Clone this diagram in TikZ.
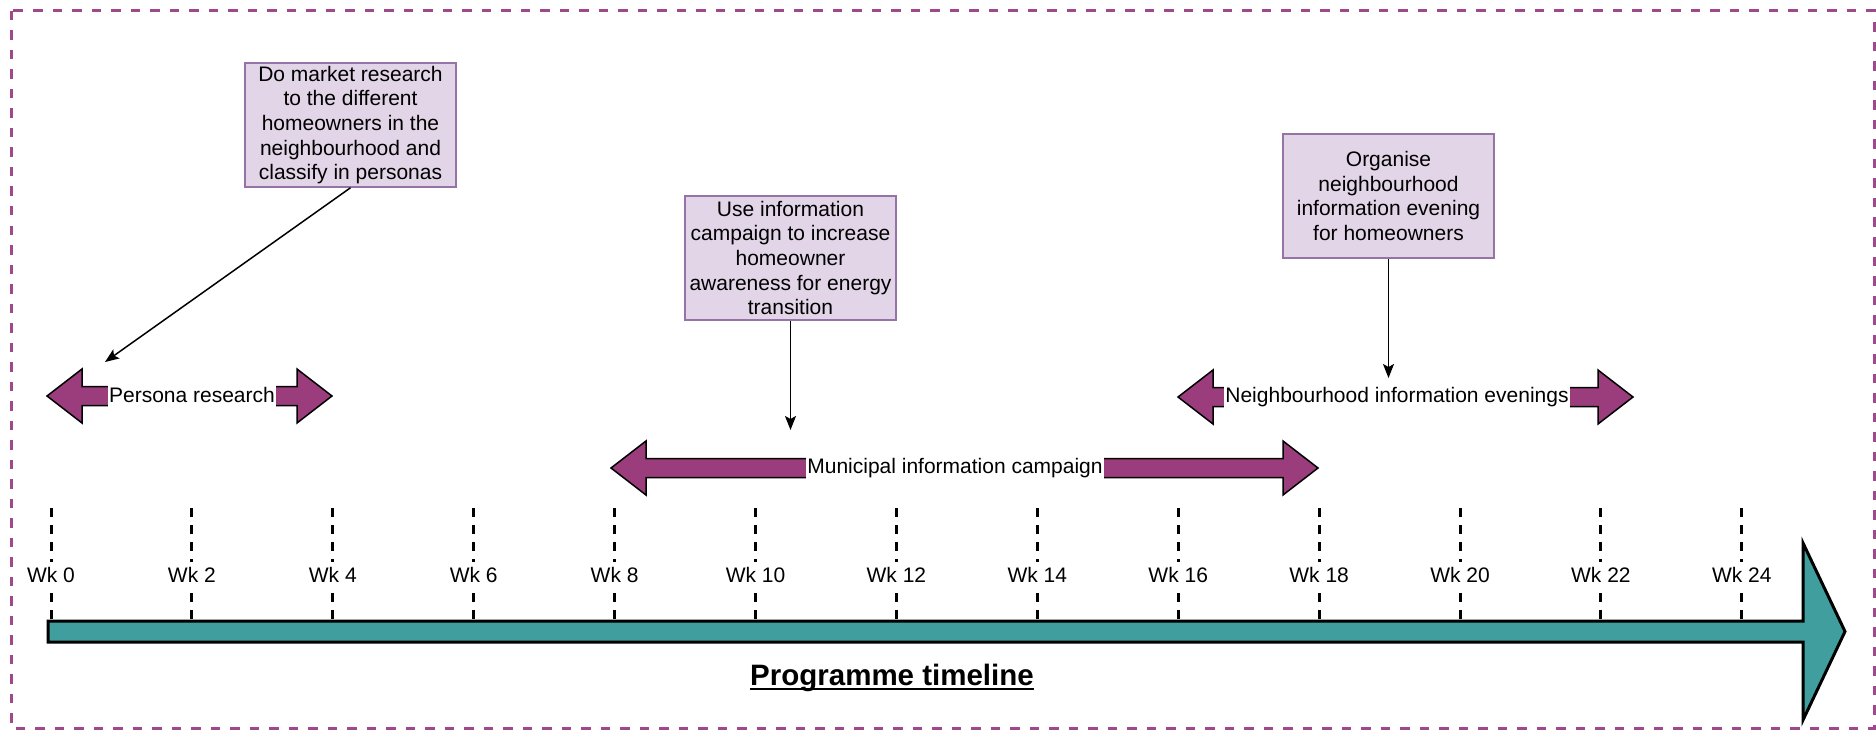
\documentclass[tikz,border=0pt]{standalone}
\usepackage{fontspec}
\setmainfont{Liberation Sans}
\usetikzlibrary{arrows.meta}
\definecolor{boxfill}{HTML}{E1D5E7}
\definecolor{boxline}{HTML}{9673A6}
\definecolor{arrowpurple}{RGB}{155,61,125}
\definecolor{tealbar}{RGB}{64,158,158}
\definecolor{framepurple}{RGB}{160,72,140}
\newcommand\spanarr[3]{%
  \filldraw[spanshape] (#1,#3) -- (#1+35,#3-27) -- (#1+35,#3-9.5) -- (#2-35,#3-9.5)
    -- (#2-35,#3-27) -- (#2,#3) -- (#2-35,#3+27) -- (#2-35,#3+9.5)
    -- (#1+35,#3+9.5) -- (#1+35,#3+27) -- cycle;}
\tikzset{
  box/.style={draw=boxline, fill=boxfill, line width=1.5pt, minimum width=211pt,
    minimum height=124pt, align=center, inner sep=2pt,
    font=\fontsize{21}{24.7}\selectfont},
  conn/.style={line width=1.5pt, -{Stealth[length=14pt,width=11pt,inset=3pt]}},
  spanlbl/.style={fill=white, inner xsep=1pt, inner ysep=2pt, text height=16pt,
    text depth=5pt, font=\fontsize{21}{24.7}\selectfont},
  wklbl/.style={fill=white, inner xsep=1pt, inner ysep=4pt, text height=16pt,
    text depth=5pt, anchor=base, font=\fontsize{21}{24.7}\selectfont},
  tickline/.style={line width=3pt, dash pattern=on 9pt off 8pt},
  spanshape/.style={fill=arrowpurple, draw=black, line width=1.5pt, line join=miter},
  framebox/.style={draw=framepurple, line width=3pt, dash pattern=on 9.5pt off 10pt},
}
\begin{document}
\begin{tikzpicture}[x=1pt,y=-1pt]
\useasboundingbox (0,0) rectangle (1876,730);
% frame
\draw[framebox] (11,11) rectangle (1874,728);

% ticks
\foreach \k in {0,...,12}{
  \pgfmathsetmacro\xx{51+140.9*\k}
  \pgfmathtruncatemacro\w{2*\k}
  \coordinate (tt\k) at (\xx,508);
  \coordinate (tb\k) at (\xx,621);
  \draw[tickline] (tt\k) -- (tb\k);
  \node[wklbl] (wk\k) at (\xx,582) {Wk \w};
}

% timeline bar
\filldraw[fill=tealbar, draw=black, line width=3pt, line join=miter]
  (48,621) -- (1803,621) -- (1803,543) -- (1845,631.5) -- (1803,720)
  -- (1803,642) -- (48,642) -- cycle;

% span arrows
\spanarr{47}{332}{396}
\node[spanlbl] (persona) at (192,397) {Persona research};
\spanarr{611}{1318}{468}
\node[spanlbl] (municipal) at (955,468) {Municipal information campaign};
\spanarr{1178}{1633}{397}
\node[spanlbl] (evenings) at (1397,397) {Neighbourhood information evenings};

% boxes
\node[box] (b1) at (350.5,125) {Do market research\\to the different\\homeowners in the\\neighbourhood and\\classify in personas};
\node[box] (b2) at (790.5,258) {Use information\\campaign to increase\\homeowner\\awareness for energy\\transition};
\node[box] (b3) at (1388.5,196) {Organise\\neighbourhood\\information evening\\for homeowners};

% connectors
\coordinate (p1) at (105,362);
\coordinate (p2) at (790.5,430);
\coordinate (p3) at (1388.5,378);
\draw[conn] (b1.south) -- (p1);
\draw[conn] (b2.south) -- (p2);
\draw[conn] (b3.south) -- (p3);

% title
\node[font=\bfseries\fontsize{29.5}{35}\selectfont, anchor=base, inner sep=0pt] (title) at (892,685) {Programme timeline};
\draw[line width=2pt] ([yshift=-4pt]title.base west) -- ([yshift=-4pt]title.base east);
\end{tikzpicture}
\end{document}
